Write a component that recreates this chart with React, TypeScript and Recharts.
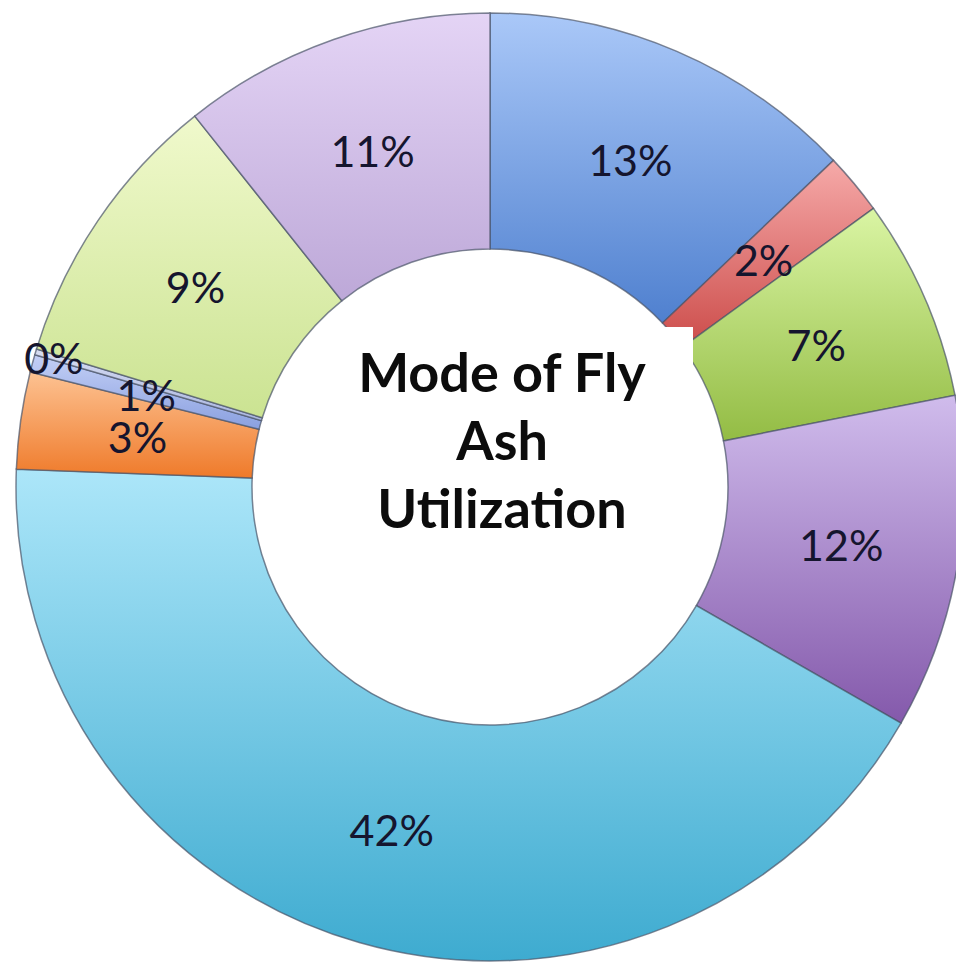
import React from "react";
import { Cell, Pie, PieChart } from "recharts";

// slices, clockwise from 12 o'clock
const categories = [
  "Slice A",
  "Slice B",
  "Slice C",
  "Slice D",
  "Slice E",
  "Slice F",
  "Slice G",
  "Slice H",
  "Slice I",
  "Slice J",
];
const shares = [12.9, 2.1, 6.9, 11.4, 42.3, 3.3, 0.6, 0.2, 9.6, 10.7];
const shareLabels = ["13%", "2%", "7%", "12%", "42%", "3%", "1%", "0%", "9%", "11%"];
const titleLines = ["Mode of Fly", "Ash", "Utilization"];

// [top, bottom] of each slice's vertical gradient
const sliceColors: [string, string][] = [
  ["#aac8f8", "#4f80cf"],
  ["#f6aaa9", "#cc4c4a"],
  ["#daf5a4", "#93bc44"],
  ["#d0bcec", "#8459ab"],
  ["#ace6f9", "#3eabd0"],
  ["#fdc292", "#ef7a2a"],
  ["#c4d0f6", "#8aa0e0"],
  ["#d8def2", "#aab6e0"],
  ["#f0f9cc", "#cbe392"],
  ["#e4d4f5", "#bda8d8"],
];

const data = categories.map((name, i) => ({ name, value: shares[i], label: shareLabels[i] }));

const W = 956;
const H = 963;
const CX = 490;
const CY = 487;
const OUTER = 474;
const INNER = 238;
const RADIAN = Math.PI / 180;

function renderLabel(props: any) {
  const { cx, cy, midAngle, innerRadius, outerRadius, index } = props;
  // the 0% slice is too thin, Excel pushed its label to the rim
  const r = index === 7 ? outerRadius - 19 : (innerRadius + outerRadius) / 2;
  const x = cx + r * Math.cos(-midAngle * RADIAN);
  const y = cy + r * Math.sin(-midAngle * RADIAN);
  return (
    <text
      x={x}
      y={y}
      textAnchor="middle"
      dominantBaseline="central"
      fill="#15152e"
      fontSize={43}
      fontFamily="Lato, 'Open Sans', sans-serif"
    >
      {data[index].label}
    </text>
  );
}

export default function App() {
  return (
    <div style={{ position: "absolute", left: 0, top: 0, width: W, height: H, background: "#fff" }}>
      <PieChart width={W} height={H} margin={{ top: 0, right: 0, bottom: 0, left: 0 }}>
        <defs>
          {sliceColors.map(([top, bottom], i) => (
            <linearGradient key={i} id={`slice-${i}`} x1="0" y1="0" x2="0" y2="1">
              <stop offset="0%" stopColor={top} />
              <stop offset="100%" stopColor={bottom} />
            </linearGradient>
          ))}
        </defs>
        <Pie
          data={data}
          dataKey="value"
          nameKey="name"
          cx={CX}
          cy={CY}
          innerRadius={INNER}
          outerRadius={OUTER}
          startAngle={90}
          endAngle={-270}
          stroke="#4a5468"
          strokeOpacity={0.7}
          strokeWidth={1.5}
          label={renderLabel}
          labelLine={false}
          isAnimationActive={false}
        >
          {data.map((d, i) => (
            <Cell key={d.name} fill={`url(#slice-${i})`} />
          ))}
        </Pie>
      </PieChart>
      <svg
        width={W}
        height={H}
        style={{ position: "absolute", left: 0, top: 0, pointerEvents: "none" }}
      >
        <rect x={340} y={327} width={353} height={270} fill="#fff" />
        {titleLines.map((line, i) => (
          <text
            key={line}
            x={502}
            y={392 + i * 68}
            textAnchor="middle"
            fill="#0c0c0c"
            fontSize={54}
            fontWeight={700}
            fontFamily="Lato, 'Open Sans', sans-serif"
          >
            {line}
          </text>
        ))}
      </svg>
    </div>
  );
}
